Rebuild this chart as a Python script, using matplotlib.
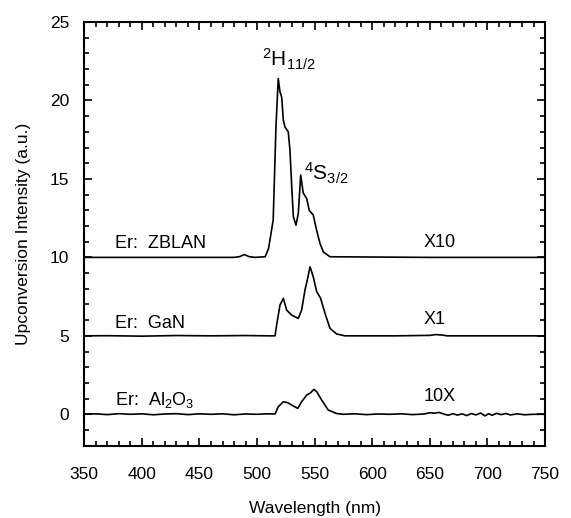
import matplotlib
matplotlib.use("Agg")
import matplotlib.pyplot as plt
import numpy as np

plt.rcParams['font.family'] = ['Liberation Sans', 'DejaVu Sans']
plt.rcParams['mathtext.fontset'] = 'custom'
plt.rcParams['mathtext.rm'] = 'Liberation Sans'
plt.rcParams['mathtext.it'] = 'Liberation Sans:italic'
plt.rcParams['mathtext.bf'] = 'Liberation Sans:bold'

# ---------------- data ----------------
offsets = [10, 5, 0]
series_names = ['Er:  ZBLAN', 'Er:  GaN', r'Er:  Al$_2$O$_3$']
scale_labels = ['X10', 'X1', '10X']

zblan_wl = [350, 420, 480, 485, 489, 493, 498, 507, 510, 514, 516.4, 518.4, 519.9,
            521.4, 522.8, 524.3, 527.1, 528.6, 530.1, 531.5, 533.8, 535.8, 537.9,
            540.1, 543.1, 545.3, 548.8, 551.8, 554.6, 557.5, 563.3, 650, 750]
zblan_int = [0, 0, 0, 0.05, 0.18, 0.05, 0, 0.04, 0.57, 2.38, 8.3, 11.4, 10.55,
             10.2, 8.75, 8.3, 8.0, 6.8, 4.5, 2.6, 2.05, 2.8, 5.25,
             4.1, 3.75, 3.0, 2.7, 1.7, 0.9, 0.35, 0.04, 0, 0]

gan_wl = [350, 370, 400, 430, 460, 490, 510, 515.6, 517.0, 519.9, 522.8, 525.7,
          530.1, 535.8, 538.7, 541.6, 543.6, 546.0, 548.8, 551.8, 555.2, 559.0,
          563.3, 569.1, 576.3, 620, 650, 655, 661, 665, 700, 750]
gan_int = [0, 0.01, -0.02, 0.02, 0.0, 0.02, 0.0, 0.0, 0.69, 1.96, 2.39, 1.64,
           1.32, 1.11, 1.64, 2.92, 3.55, 4.4, 3.76, 2.81, 2.39, 1.43,
           0.48, 0.12, 0.0, 0.0, 0.03, 0.08, 0.05, 0.0, 0.0, 0.0]

al_wl = [350, 360, 370, 380, 390, 400, 410, 420, 430, 440, 450, 460, 470, 480,
         490, 500, 508, 515.6, 518.4, 522.8, 526.6, 531.5, 535.3, 538.7, 543.1,
         546.0, 549.4, 551.8, 556.1, 561.8, 569.1, 575, 585, 595, 605, 615, 625,
         635, 645, 650, 654, 658, 662, 666, 670, 674, 678, 682, 686, 690, 694,
         698, 701, 704, 708, 712, 716, 720, 726, 732, 740, 750]
al_int = [0.0, 0.03, -0.02, 0.04, 0.0, 0.03, -0.03, 0.02, 0.04, -0.02, 0.03, 0.0,
          0.03, -0.03, 0.02, 0.0, 0.03, 0.02, 0.48, 0.8, 0.74, 0.53, 0.38, 0.8, 1.23,
          1.34, 1.59, 1.44, 0.91, 0.27, 0.05, 0.0, 0.03, -0.02, 0.02, 0.0, 0.03,
          -0.02, 0.02, 0.1, 0.07, 0.12, 0.02, -0.06, 0.04, -0.05, 0.03, -0.08, 0.05,
          -0.04, 0.08, -0.1, 0.04, -0.06, 0.06, -0.02, 0.05, -0.04, 0.03, -0.03, 0.0, 0.0]

peak_labels = [r'$^{2}\mathrm{H}_{11/2}$', r'$^{4}\mathrm{S}_{3/2}$']

# ---------------- figure ----------------
fig = plt.figure(figsize=(5.71, 5.18), dpi=100)
ax = fig.add_axes([0.1476, 0.1396, 0.9545 - 0.1476, 0.9575 - 0.1396])

curves = [(zblan_wl, zblan_int), (gan_wl, gan_int), (al_wl, al_int)]
for (wl, inten), off in zip(curves, offsets):
    ax.plot(wl, np.array(inten) + off, color='black', lw=1.2)

ax.set_xlim(350, 750)
ax.set_ylim(-2, 25)
ax.set_xticks(np.arange(350, 751, 50))
ax.set_xticks(np.arange(350, 751, 10), minor=True)
ax.set_yticks(np.arange(0, 26, 5))
ax.set_yticks(np.arange(-2, 26, 1), minor=True)

ax.tick_params(which='both', direction='in', top=True, right=True, width=1.2,
               labelsize=12.5, color='black')
ax.tick_params(which='major', length=6)
ax.tick_params(which='minor', length=3.5)
ax.tick_params(axis='x', which='major', pad=15)
ax.tick_params(axis='y', which='major', pad=11)
for s in ax.spines.values():
    s.set_linewidth(1.5)

ax.set_xlabel('Wavelength (nm)', fontsize=12.5, labelpad=14)
ax.set_ylabel('Upconversion Intensity (a.u.)', fontsize=12.5, labelpad=13)

name_y = [10.57, 5.48, 0.59]
scale_y = [10.64, 5.75, 0.87]
for name, ny, sl, sy in zip(series_names, name_y, scale_labels, scale_y):
    ax.text(376.4, ny, name, fontsize=13, va='baseline', ha='left')
    ax.text(644.3, sy, sl, fontsize=13, va='baseline', ha='left')

ax.text(504, 22.14, peak_labels[0], fontsize=15, va='baseline', ha='left')
ax.text(540.7, 14.92, peak_labels[1], fontsize=15, va='baseline', ha='left')

fig.savefig('out.png', dpi=100)
